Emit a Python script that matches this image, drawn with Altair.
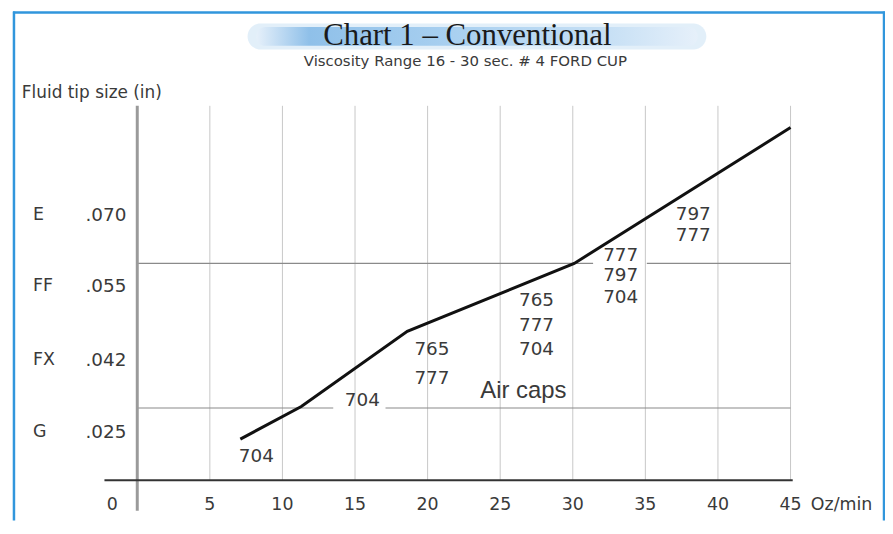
import altair as alt
import pandas as pd

# ---------------- data ----------------
# Fluid-flow curve (Oz/min vs. tip-size level)
flow_oz = [7.1, 11.3, 18.6, 30.1, 45.0]
flow_level = [0.57, 1.02, 2.06, 3.00, 4.88]

# y categories (fluid tip size)
tip_letters = ["E", "FF", "FX", "G"]
tip_sizes = [".070", ".055", ".042", ".025"]
tip_levels = [3.67, 2.69, 1.66, 0.67]

# x ticks
x_ticks = [0, 5, 10, 15, 20, 25, 30, 35, 40, 45]
x_unit = "Oz/min"

# horizontal reference lines (tip-size boundaries), drawn as segments around labels
ref_level = [1, 1, 3, 3]
ref_start = [0, 17.1, 0, 35.1]
ref_end = [13.5, 45, 31.4, 45]

# air cap annotations
cap_text = ["704", "704", "765", "777", "765", "777", "704",
            "777", "797", "704", "797", "777"]
cap_x = [8.2, 15.5, 20.3, 20.3, 27.5, 27.5, 27.5,
         33.3, 33.3, 33.3, 38.3, 38.3]
cap_level = [0.34, 1.11, 1.81, 1.42, 2.50, 2.15, 1.82,
             3.12, 2.84, 2.54, 3.68, 3.39]

title_text = "Chart 1 \u2013 Conventional"
subtitle_text = "Viscosity Range 16 - 30 sec. # 4 FORD CUP"
ytitle_text = "Fluid tip size (in)"
aircaps_text = "Air caps"

# ---------------- layout helpers ----------------
W, H = 877, 512
XDOM = [-8.5616, 51.5068]
YDOM = [-0.5571, 6.4856]
xs = alt.Scale(domain=XDOM, nice=False, zero=False)
ys = alt.Scale(domain=YDOM, nice=False, zero=False)
GRID_TOP = 5.18
AXIS_BOTTOM = -0.42
TICK_LEVEL = -0.34

FONT = "DejaVu Sans"
TXT = "#3a3a3a"


def X(f):
    return alt.X(f, type="quantitative", scale=xs, axis=None)


def Y(f):
    return alt.Y(f, type="quantitative", scale=ys, axis=None)


grid_df = pd.DataFrame({"x": x_ticks[1:], "y0": 0.0, "y1": GRID_TOP})
grid = alt.Chart(grid_df).mark_rule(color="#c8c8c8", strokeWidth=1).encode(
    x=X("x"), y=Y("y0"), y2="y1")

ref_df = pd.DataFrame({"x0": ref_start, "x1": ref_end, "y": ref_level})
refs = alt.Chart(ref_df).mark_rule(color="#8a8a8a", strokeWidth=1.2).encode(
    x=X("x0"), x2="x1", y=Y("y"))

yaxis_df = pd.DataFrame({"x": [0], "y0": [AXIS_BOTTOM], "y1": [GRID_TOP]})
yaxis = alt.Chart(yaxis_df).mark_rule(color="#9a9a9a", strokeWidth=3).encode(
    x=X("x"), y=Y("y0"), y2="y1")

xaxis_df = pd.DataFrame({"x0": [-2.26], "x1": [45.15], "y": [0]})
xaxis = alt.Chart(xaxis_df).mark_rule(color="#333333", strokeWidth=2).encode(
    x=X("x0"), x2="x1", y=Y("y"))

flow_df = pd.DataFrame({"x": flow_oz, "y": flow_level})
flow = alt.Chart(flow_df).mark_line(color="#111111", strokeWidth=3).encode(
    x=X("x"), y=Y("y"))

AX_FS = 17.5
xlab_df = pd.DataFrame({"x": x_ticks[1:], "t": [str(v) for v in x_ticks[1:]], "y": TICK_LEVEL})
xlabs = alt.Chart(xlab_df).mark_text(font=FONT, fontSize=AX_FS, color=TXT, baseline="middle").encode(
    x=X("x"), y=Y("y"), text="t")
zero_df = pd.DataFrame({"x": [x_ticks[0]], "t": [str(x_ticks[0])], "y": [TICK_LEVEL]})
zlab = alt.Chart(zero_df).mark_text(font=FONT, fontSize=AX_FS, color=TXT, baseline="middle", dx=-25).encode(
    x=X("x"), y=Y("y"), text="t")
unit_df = pd.DataFrame({"x": [46.4], "t": [x_unit], "y": [TICK_LEVEL]})
unit = alt.Chart(unit_df).mark_text(font=FONT, fontSize=AX_FS, color=TXT, baseline="middle", align="left").encode(
    x=X("x"), y=Y("y"), text="t")

ylet_df = pd.DataFrame({"x": -7.19, "t": tip_letters, "y": tip_levels})
ylet = alt.Chart(ylet_df).mark_text(font=FONT, fontSize=AX_FS, color=TXT, baseline="middle", align="left").encode(
    x=X("x"), y=Y("y"), text="t")
ysz_df = pd.DataFrame({"x": -0.75, "t": tip_sizes, "y": tip_levels})
ysz = alt.Chart(ysz_df).mark_text(font=FONT, fontSize=AX_FS + 1, color=TXT, baseline="middle", align="right").encode(
    x=X("x"), y=Y("y"), text="t")

cap_df = pd.DataFrame({"x": cap_x, "y": cap_level, "t": cap_text})
caps = alt.Chart(cap_df).mark_text(font=FONT, fontSize=18.5, color=TXT, baseline="middle").encode(
    x=X("x"), y=Y("y"), text="t")

air_df = pd.DataFrame({"x": [26.6], "y": [1.23], "t": [aircaps_text]})
air = alt.Chart(air_df).mark_text(font="Liberation Sans", fontSize=24, color=TXT, baseline="middle").encode(
    x=X("x"), y=Y("y"), text="t")

band_glow_df = pd.DataFrame({"x0": [7.6], "x1": [39.2], "y0": [5.96], "y1": [6.32]})
band_glow = alt.Chart(band_glow_df).mark_rect(cornerRadius=13, color="#d6e8f7", opacity=0.7).encode(
    x=X("x0"), x2="x1", y=Y("y0"), y2="y1")

band_df = pd.DataFrame({"x0": [8.2], "x1": [38.6], "y0": [6.01], "y1": [6.27]})
band = alt.Chart(band_df).mark_rect(
    cornerRadius=9,
    color=alt.Gradient(
        gradient="linear", x1=0, x2=1, y1=0, y2=0,
        stops=[
            alt.GradientStop(color="#e6f0fa", offset=0.0),
            alt.GradientStop(color="#8fc0e9", offset=0.12),
            alt.GradientStop(color="#a9d0f0", offset=0.45),
            alt.GradientStop(color="#c7e0f5", offset=0.8),
            alt.GradientStop(color="#e6f0fa", offset=1.0),
        ]),
).encode(x=X("x0"), x2="x1", y=Y("y0"), y2="y1")

title_df = pd.DataFrame({"x": [22.74], "y": [6.02], "t": [title_text]})
title = alt.Chart(title_df).mark_text(font="Liberation Serif", fontSize=31, color="#1a1a1a", baseline="alphabetic").encode(
    x=X("x"), y=Y("y"), text="t")
sub_df = pd.DataFrame({"x": [22.6], "y": [5.80], "t": [subtitle_text]})
sub = alt.Chart(sub_df).mark_text(font=FONT, fontSize=15, color=TXT, baseline="middle").encode(
    x=X("x"), y=Y("y"), text="t")
yt_df = pd.DataFrame({"x": [-7.95], "y": [5.36], "t": [ytitle_text]})
yt = alt.Chart(yt_df).mark_text(font=FONT, fontSize=17, color=TXT, baseline="middle", align="left").encode(
    x=X("x"), y=Y("y"), text="t")

# frame (blue border on left, top, right)
FRAME = "#3196dc"
fl = alt.Chart(pd.DataFrame({"a": [0]})).mark_rule(color=FRAME, strokeWidth=2.5).encode(
    x=alt.value(1), y=alt.value(0), y2=alt.value(H))
fr = alt.Chart(pd.DataFrame({"a": [0]})).mark_rule(color=FRAME, strokeWidth=2.5).encode(
    x=alt.value(W - 1), y=alt.value(0), y2=alt.value(H))
ft = alt.Chart(pd.DataFrame({"a": [0]})).mark_rule(color=FRAME, strokeWidth=2.5).encode(
    x=alt.value(0), x2=alt.value(W), y=alt.value(1))

chart = alt.layer(
    grid, refs, band_glow, band, yaxis, xaxis, flow, xlabs, zlab, unit, ylet, ysz, caps, air,
    title, sub, yt, fl, fr, ft
).properties(
    width=W, height=H,
    padding={"left": 5, "top": 2, "right": 0, "bottom": 0},
    autosize=alt.AutoSizeParams(type="none"),
).configure_view(strokeWidth=0)

chart.save("out.html", embed_options={"renderer": "svg", "actions": False})
